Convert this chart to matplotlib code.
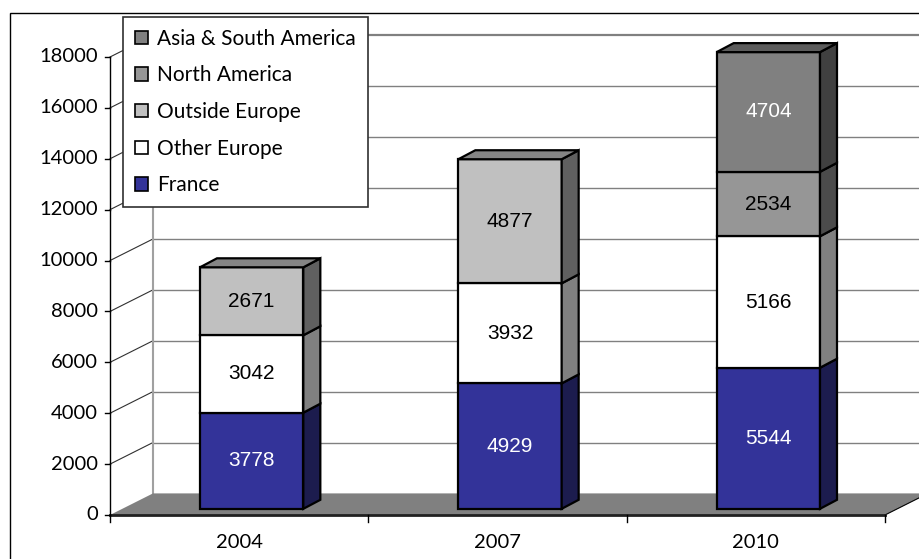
import numpy as np
import matplotlib.pyplot as plt
from matplotlib.patches import Polygon, Patch, Rectangle

years = ['2004', '2007', '2010']
series = ['France', 'Other Europe', 'Outside Europe', 'North America', 'Asia & South America']
france = [3778, 4929, 5544]
other_europe = [3042, 3932, 5166]
outside_europe = [2671, 4877, 0]
north_america = [0, 0, 2534]
asia_sa = [0, 0, 4704]
yticks = [0, 2000, 4000, 6000, 8000, 10000, 12000, 14000, 16000, 18000]

front_col = ['#333399', '#ffffff', '#c0c0c0', '#969696', '#808080']
side_col = ['#1c1c4e', '#808080', '#606060', '#4b4b4b', '#404040']
top_col = ['#262673', '#c0c0c0', '#858585', '#707070', '#5c5c5c']
text_col = ['white', 'black', 'black', 'black', 'white']

W, H = 920, 559
fig = plt.figure(figsize=(W / 100, H / 100), dpi=100)
# plot frame: front floor edge 110..885 px, value axis 515..57 px
ax = fig.add_axes([110 / W, (H - 515) / H, 775 / W, 458 / H])
ax.set_xlim(-0.5, 2.5)
ax.set_ylim(0, 18000)
ax.axis('off')

px_x = 775 / 3.0
px_y = 458 / 18000.0


def off(dx, dy):
    return dx / px_x, dy / px_y


bx, by = off(43, 21.6)     # depth of the wall / floor
fx, fy = off(12.5, 6.2)    # bar front plane
dx, dy = off(17, 9)        # bar depth
x0, x1 = -0.5, 2.5

# back wall gridlines
for v in yticks[1:]:
    ax.plot([x0 + bx, x1 + bx + 0.2], [v + by, v + by], color='#808080',
            lw=1.6 if v == 18000 else 1.0, clip_on=False, zorder=1)
    ax.plot([x0, x0 + bx], [v, v + by], color='#303030', lw=0.8, clip_on=False, zorder=1)
ax.plot([x0 + bx, x0 + bx], [by, 18000 + by], color='#a0a0a0', lw=1.5, clip_on=False, zorder=1)

# floor
ax.add_patch(Polygon([(x0, 0), (x1, 0), (x1 + bx, by), (x0 + bx, by)], closed=True,
                     facecolor='#808080', edgecolor='none', clip_on=False, zorder=2))
ax.plot([x1, x1 + bx], [0, by], color='black', lw=0.8, clip_on=False, zorder=2)

# axes lines and ticks
ax.plot([x0, x1], [0, 0], color='#202020', lw=2, clip_on=False, zorder=3)
ax.plot([x0, x0], [0, 18000], color='black', lw=1, clip_on=False, zorder=3)
for v in yticks:
    ax.plot([x0 - 5 / px_x, x0], [v, v], color='black', lw=1, clip_on=False, zorder=3)
    ax.text(x0 - 12 / px_x, v, str(v), ha='right', va='center', fontsize=14.5,
            family='Lato', color='black')
for k in range(4):
    ax.plot([x0 + k, x0 + k], [0, -7 / px_y], color='black', lw=1, clip_on=False, zorder=3)
for i, yr in enumerate(years):
    ax.text(i, -28 / px_y, yr, ha='center', va='center', fontsize=14.5, family='Lato')

# stacked 3d bars
data = np.array([france, other_europe, outside_europe, north_america, asia_sa])
w = 0.4
for i in range(len(years)):
    left = i - w / 2 + fx
    right = i + w / 2 + fx
    base = fy
    nz = [s for s in range(len(series)) if data[s, i] > 0]
    for s in nz:
        v = data[s, i]
        top = base + v
        ax.add_patch(Polygon([(left, base), (right, base), (right, top), (left, top)],
                             closed=True, facecolor=front_col[s], edgecolor='black',
                             lw=1.6, joinstyle='miter', clip_on=False, zorder=5))
        ax.add_patch(Polygon([(right, base), (right + dx, base + dy), (right + dx, top + dy),
                              (right, top)], closed=True, facecolor=side_col[s],
                             edgecolor='black', lw=1.6, joinstyle='miter', clip_on=False, zorder=5))
        if s == nz[-1]:
            ax.add_patch(Polygon([(left, top), (right, top), (right + dx, top + dy),
                                  (left + dx, top + dy)], closed=True, facecolor=top_col[s],
                                 edgecolor='black', lw=1.6, joinstyle='miter', clip_on=False, zorder=5))
        ax.text((left + right) / 2, base + v / 2, str(v), ha='center', va='center',
                fontsize=15, family='Liberation Sans', color=text_col[s], zorder=6)
        base = top

# legend
handles = [Patch(facecolor=front_col[s], edgecolor='black', lw=1.2, label=series[s])
           for s in range(len(series) - 1, -1, -1)]
leg = fig.legend(handles=handles, loc='upper left', bbox_to_anchor=(123 / W, 1 - 16.5 / H),
                 prop={'family': 'Lato', 'size': 15}, fancybox=False, frameon=True,
                 edgecolor='#303030', framealpha=1, handlelength=0.6, handleheight=0.6,
                 handletextpad=0.45, labelspacing=0.8, borderpad=0.58, borderaxespad=0)
leg.get_frame().set_linewidth(1.2)

# chart border (runs off the right and bottom)
fig.add_artist(Rectangle((10 / W, -0.1), 1.2, 1.1 - 13 / H, transform=fig.transFigure,
                         fill=False, edgecolor='black', lw=1))

fig.savefig('out.png', dpi=100)
